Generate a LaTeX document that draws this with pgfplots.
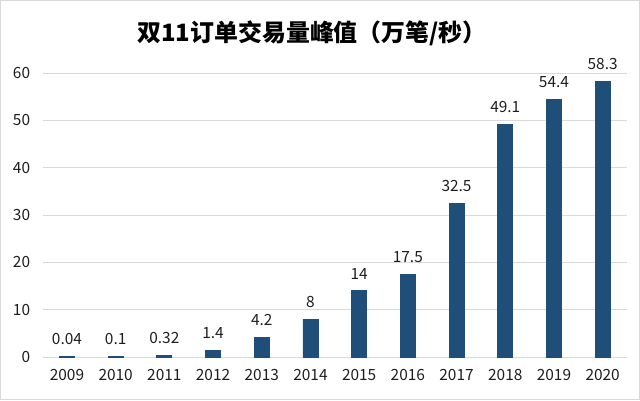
\documentclass[border=0pt]{standalone}
\usepackage{fontspec}
\setmainfont{Noto Sans CJK SC}
\usepackage{pgfplots}
\pgfplotsset{compat=1.18}
\definecolor{barblue}{HTML}{1F4E79}
\definecolor{txt}{HTML}{1E1E1E}
\definecolor{gridc}{HTML}{D9D9D9}
\begin{document}
\begin{tikzpicture}[x=1bp,y=1bp]
\useasboundingbox (0,0) rectangle (640,400);
\draw[gridc, line width=1.2bp] (0.6,0.6) rectangle (639.4,399.4);
\node[font=\bfseries\fontsize{24}{28}\selectfont, text=black] at (312,367) {双11订单交易量峰值（万笔/秒）};
\begin{axis}[
    at={(42.6bp,43bp)}, anchor=south west,
    scale only axis,
    width=584.4bp, height=284bp,
    xmin=-0.5, xmax=11.5,
    ymin=0, ymax=60,
    ytick={0,10,...,60},
    xtick=data,
    xticklabels={2009,2010,2011,2012,2013,2014,2015,2016,2017,2018,2019,2020},
    axis line style={draw=none},
    tick style={draw=none},
    ymajorgrids,
    grid style={gridc, line width=1bp},
    ticklabel style={font=\fontsize{15.5}{18}\selectfont, text=txt},
    /pgf/number format/assume math mode=true,
    yticklabel style={xshift=-9bp},
    xticklabel style={yshift=-9bp},
    clip=false,
]
\addplot[ybar, bar width=15bp, fill=barblue, draw=barblue, line width=0.8bp,
    point meta=explicit symbolic,
    nodes near coords,
    nodes near coords style={font=\fontsize{15.5}{18}\selectfont, text=txt, anchor=south, yshift=8bp}]
coordinates {
(0,0.04) [0.04]
(1,0.1) [0.1]
(2,0.32) [0.32]
(3,1.4) [1.4]
(4,4.2) [4.2]
(5,8) [8]
(6,14) [14]
(7,17.5) [17.5]
(8,32.5) [32.5]
(9,49.1) [49.1]
(10,54.4) [54.4]
(11,58.3) [58.3]
};
\end{axis}
\end{tikzpicture}
\end{document}
